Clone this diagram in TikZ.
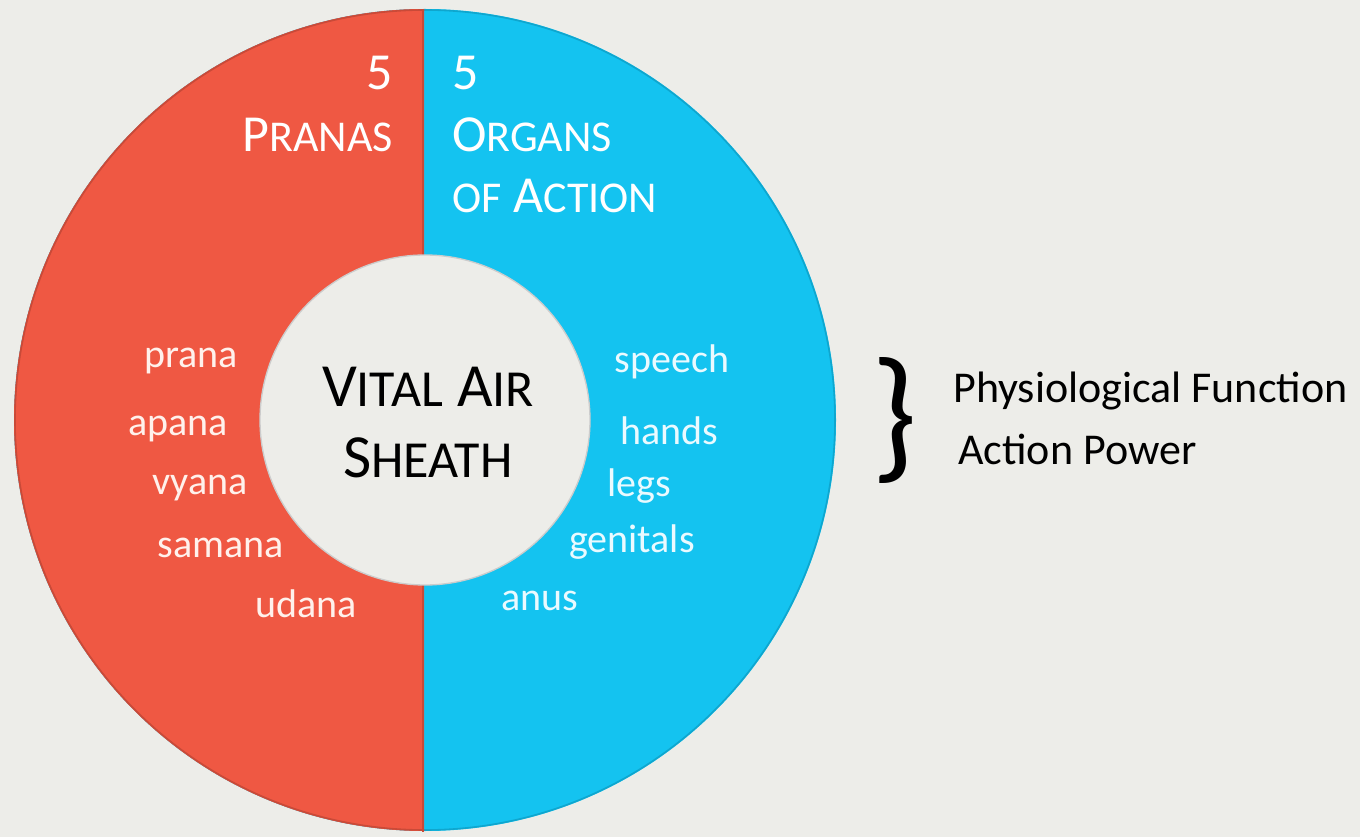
\documentclass[tikz,border=0pt]{standalone}
\usepackage{fontspec}
\setmainfont{Carlito}
\definecolor{bgc}{HTML}{EDEDE9}
\definecolor{redc}{HTML}{EF5843}
\definecolor{redd}{HTML}{C94A38}
\definecolor{bluec}{HTML}{14C3F0}
\definecolor{blued}{HTML}{0FA6CE}
\definecolor{redtxt}{HTML}{FFF1EC}
\definecolor{bluetxt}{HTML}{EAFAFF}
\newcommand\smcA[1]{{\fontsize{33}{33}\selectfont #1}}
\newcommand\smcB[1]{{\fontsize{39}{39}\selectfont #1}}
\tikzset{
  heading/.style={font=\fontsize{39}{39}\selectfont, text=white, inner sep=0pt},
  centre/.style={font=\fontsize{46}{46}\selectfont, text=black, inner sep=0pt, anchor=base},
  redlbl/.style={font=\fontsize{30}{30}\selectfont, text=redtxt, inner sep=0pt, anchor=base},
  bluelbl/.style={font=\fontsize{30}{30}\selectfont, text=bluetxt, inner sep=0pt, anchor=base},
  sidetxt/.style={font=\fontsize{33}{33}\selectfont, text=black, inner sep=0pt, anchor=base west},
}
\begin{document}
\begin{tikzpicture}[x=0.75pt,y=-0.75pt]
\fill[bgc] (0,0) rectangle (1360,837);
\useasboundingbox (0,0) rectangle (1360,837);
% donut
\coordinate (c) at (425,420);
\fill[bluec] (c) circle (411);
\draw[blued, line width=1.2pt] (c) circle (410);
\begin{scope}
  \clip (0,0) rectangle (424,837);
  \fill[redc] (c) circle (411);
  \draw[redd, line width=1.2pt] (c) circle (410);
\end{scope}
\draw[redd, line width=1.5pt] (423,9) -- (423,832);
\fill[bgc] (c) circle (165);
\draw[black!20, line width=1pt] (c) circle (165);
% headings
\node[heading, anchor=base east] (n5l) at (393,90) {5};
\node[heading, anchor=base east] (pranas) at (393,152) {P\smcA{RANAS}};
\node[heading, anchor=base west] (n5r) at (452,90) {5};
\node[heading, anchor=base west] (organs) at (452,152) {O\smcA{RGANS}};
\node[heading, anchor=base west] (ofaction) at (452,213) {\smcA{OF} A\smcA{CTION}};
% centre
\node[centre] (vital) at (428,407) {V\smcB{ITAL} A\smcB{IR}};
\node[centre] (sheath) at (428,478) {S\smcB{HEATH}};
% left labels
\node[redlbl] (prana) at (191,368) {prana};
\node[redlbl] (apana) at (178,436) {apana};
\node[redlbl] (vyana) at (200,495) {vyana};
\node[redlbl] (samana) at (221,557) {samana};
\node[redlbl] (udana) at (306,617) {udana};
% right labels
\node[bluelbl] (speech) at (672,373) {speech};
\node[bluelbl] (hands) at (669,445) {hands};
\node[bluelbl] (legs) at (639,497) {legs};
\node[bluelbl] (genitals) at (632,552) {genitals};
\node[bluelbl] (anus) at (540,610) {anus};
% side
\node[font=\fontsize{110}{110}\selectfont, inner sep=0pt] (brace) at (895,420) {\}};
\node[sidetxt] (phys) at (953,403) {Physiological Function};
\node[sidetxt] (actpow) at (958,465) {Action Power};
\end{tikzpicture}
\end{document}
